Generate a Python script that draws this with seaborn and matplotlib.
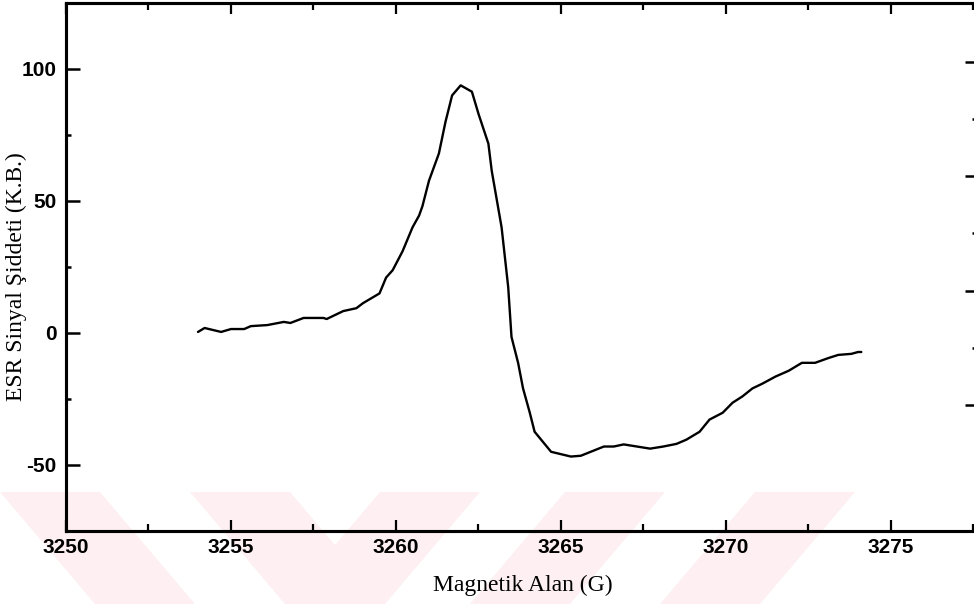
import matplotlib
matplotlib.use('Agg')
import matplotlib.pyplot as plt
import seaborn as sns
import pandas as pd
from matplotlib.ticker import MultipleLocator, FixedLocator
from matplotlib.patches import Polygon

# ---- data ----
field = [3254.0, 3254.2, 3254.5, 3254.7, 3255.0, 3255.4, 3255.6, 3256.1, 3256.6, 3256.8,
         3257.2, 3257.8, 3257.9, 3258.4, 3258.8, 3259.0, 3259.5, 3259.7, 3259.9, 3260.2,
         3260.5, 3260.7, 3260.8, 3261.0, 3261.3, 3261.5, 3261.7, 3261.96, 3262.3, 3262.5,
         3262.8, 3262.9, 3263.2, 3263.4, 3263.5, 3263.7, 3263.85, 3264.05, 3264.2, 3264.7,
         3265.3, 3265.6, 3266.3, 3266.6, 3266.9, 3267.3, 3267.7, 3268.1, 3268.5, 3268.8,
         3269.2, 3269.5, 3269.9, 3270.2, 3270.5, 3270.8, 3271.1, 3271.5, 3271.9, 3272.3,
         3272.7, 3273.1, 3273.4, 3273.8, 3274.0, 3274.1]
signal = [0.4, 1.9, 1.0, 0.4, 1.5, 1.5, 2.6, 3.0, 4.2, 3.8,
          5.7, 5.7, 5.3, 8.3, 9.4, 11.3, 15.0, 21.0, 23.8, 31.0,
          40.0, 44.5, 48.0, 57.7, 68.0, 80.0, 90.0, 93.8, 91.4, 83.0,
          71.7, 61.5, 40.0, 17.4, -1.5, -11.3, -21.0, -30.0, -37.4, -45.0,
          -46.8, -46.5, -43.0, -43.0, -42.2, -43.0, -43.8, -43.0, -42.0, -40.4,
          -37.4, -32.8, -30.2, -26.4, -24.0, -21.0, -19.2, -16.5, -14.3, -11.3,
          -11.3, -9.5, -8.3, -7.9, -7.2, -7.2]
x_ticks = [3250, 3255, 3260, 3265, 3270, 3275]
x_tick_labels = ['3250', '3255', '3260', '3265', '3270', '3275']
y_ticks = [-50, 0, 50, 100]
y_tick_labels = ['-50', '0', '50', '100']
x_label = 'Magnetik Alan (G)'
y_label = 'ESR Sinyal Şiddeti (K.B.)'

df = pd.DataFrame({'field': field, 'signal': signal})

sns.set_style('ticks')
plt.rcParams['font.family'] = ['Liberation Sans', 'DejaVu Sans']
plt.rcParams['text.color'] = 'black'
plt.rcParams['axes.labelcolor'] = 'black'
plt.rcParams['xtick.color'] = 'black'
plt.rcParams['ytick.color'] = 'black'

W, H = 974, 604
fig = plt.figure(figsize=(W / 100, H / 100), dpi=100)
fig.patch.set_facecolor('white')

# faint watermark stripes at the bottom of the scan (behind everything)
def px(pts):
    return [(x / W, 1 - y / H) for x, y in pts]

wm_color = '#fdeff2'
y0, y1 = 492, 604
stripes = [
    [(0, y0), (100, y0), (195, y1), (95, y1)],
    [(190, y0), (290, y0), (385, y1), (285, y1)],
    [(380, y0), (480, y0), (385, y1), (285, y1)],
    [(565, y0), (665, y0), (570, y1), (470, y1)],
    [(755, y0), (855, y0), (760, y1), (660, y1)],
]
for s in stripes:
    fig.patches.append(Polygon(px(s), closed=True, transform=fig.transFigure,
                               facecolor=wm_color, edgecolor='none', zorder=-5))

left_px, right_px, bottom_px, top_px = 66, 980, 531, 3
ax = fig.add_axes([left_px / W, 1 - bottom_px / H,
                   (right_px - left_px) / W, (bottom_px - top_px) / H])
ax.set_facecolor('none')
ax.set_zorder(2)

sns.lineplot(data=df, x='field', y='signal', ax=ax, color='black',
             linewidth=1.7, estimator=None)

ax.set_xlim(3250, 3250 + (right_px - left_px) / 33.0)
ax.set_ylim(-75, 125)
ax.set_xticks(x_ticks)
ax.set_xticklabels(x_tick_labels)
ax.set_yticks(y_ticks)
ax.set_yticklabels(y_tick_labels)
ax.xaxis.set_minor_locator(MultipleLocator(2.5))
ax.yaxis.set_minor_locator(MultipleLocator(25))

for sp in ax.spines.values():
    sp.set_linewidth(2.2)
    sp.set_color('black')

ax.tick_params(axis='y', which='major', direction='in', length=10, width=1.8,
               pad=7, right=False, labelsize=15, colors='black')
ax.tick_params(axis='y', which='minor', direction='in', length=3.6, width=1.8,
               right=False, colors='black')
ax.tick_params(axis='x', which='major', direction='in', length=8, width=1.6,
               pad=5, top=True, labelsize=15, colors='black')
ax.tick_params(axis='x', which='minor', direction='in', length=5, width=1.6,
               top=True, colors='black')
for lab in ax.get_xticklabels() + ax.get_yticklabels():
    lab.set_fontweight('bold')

ax.set_xlabel(x_label, fontfamily='Liberation Serif', fontsize=17, labelpad=13,
              color='black')
ax.set_ylabel(y_label, fontfamily='Liberation Serif', fontsize=17, color='black')
ax.yaxis.set_label_coords(-0.043, 0.481)

# right-hand ticks (separate scale, no labels)
tw = ax.twinx()
tw.set_zorder(3)
tw.set_ylim(-1.1016, 3.515)
tw.yaxis.set_major_locator(FixedLocator([0, 1, 2, 3]))
tw.yaxis.set_minor_locator(FixedLocator([0.5, 1.5, 2.5]))
tw.tick_params(axis='y', which='major', direction='in', length=10.8, width=1.8,
               labelright=False, colors='black')
tw.tick_params(axis='y', which='minor', direction='in', length=5.8, width=1.8,
               colors='black')
for sp in tw.spines.values():
    sp.set_linewidth(2.2)
    sp.set_color('black')

fig.savefig('out.png', dpi=100)
